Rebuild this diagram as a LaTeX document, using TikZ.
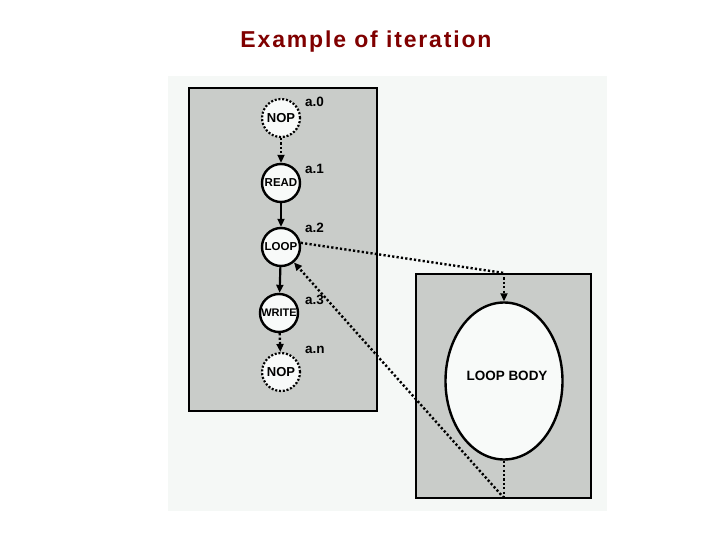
\documentclass[tikz,border=0pt]{standalone}
\usepackage{fontspec}
\setmainfont{Liberation Sans}
\usetikzlibrary{arrows.meta,shapes.geometric}
\definecolor{panel}{RGB}{245,248,246}
\definecolor{boxgray}{RGB}{201,204,201}
\definecolor{nodefill}{RGB}{248,250,249}
\definecolor{titlered}{RGB}{128,0,0}
\tikzset{
  box/.style={draw=black, line width=2pt, fill=boxgray},
  op/.style={circle, draw=black, line width=2.4pt, fill=nodefill, minimum size=38pt, inner sep=0pt, font=\bfseries\fontsize{11.5}{11.5}\selectfont},
  dotop/.style={op, line width=2.2pt, dash pattern=on 2pt off 1.8pt},
  lbl/.style={anchor=west, font=\bfseries\fontsize{13.5}{13.5}\selectfont, inner sep=0pt},
  dotline/.style={line width=2.4pt, dash pattern=on 2.2pt off 2.2pt},
  solidline/.style={line width=2.2pt},
  tip/.style={-{Triangle[length=8pt,width=7pt]}},
}
\begin{document}
\begin{tikzpicture}[x=1pt,y=-1pt]
\useasboundingbox (0,0) rectangle (720,540);
\fill[white] (0,0) rectangle (720,540);
\node[font=\bfseries\fontsize{23}{23}\selectfont\addfontfeature{LetterSpace=8}, text=titlered] (title) at (366,42) {Example of iteration};
\fill[panel] (168,76) rectangle (607,511);
\draw[box] (189,88) rectangle (377,411);
\draw[box] (416,274) rectangle (591,498);
% nodes
\node[dotop, font=\bfseries\fontsize{13}{13}\selectfont] (nop0) at (281,118) {NOP};
\node[op] (read) at (281,183) {READ};
\node[op] (loop) at (281,247) {LOOP};
\node[op, font=\bfseries\fontsize{11}{11}\selectfont] (write) at (279,313) {WRITE};
\node[dotop, font=\bfseries\fontsize{13}{13}\selectfont] (nopn) at (281,372) {NOP};
\node[lbl] (l0) at (305,102) {a.0};
\node[lbl] (l1) at (305,169) {a.1};
\node[lbl] (l2) at (305,228) {a.2};
\node[lbl] (l3) at (305,300) {a.3};
\node[lbl] (ln) at (305,350) {a.n};
\node[ellipse, draw=black, line width=2.4pt, fill=nodefill, minimum width=117pt, minimum height=157pt, inner sep=0pt,
  label={[font=\bfseries\fontsize{13.5}{13.5}\selectfont, yshift=5pt, xshift=3pt]center:LOOP BODY}] (body) at (504,381) {};
\coordinate (c1) at (504,273);
\coordinate (c2) at (504,498);
% edges
\draw[dotline, tip] (nop0) -- (read);
\draw[solidline, tip] (read) -- (loop);
\draw[solidline, tip] (loop) -- (write);
\draw[dotline, tip] (write) -- (nopn);
\draw[dotline] (loop.12) -- (c1);
\draw[dotline, tip] (c1) -- (body.north);
\draw[dotline] (body.south) -- (c2);
\draw[dotline, tip] (c2) -- (loop.-50);
\end{tikzpicture}
\end{document}
